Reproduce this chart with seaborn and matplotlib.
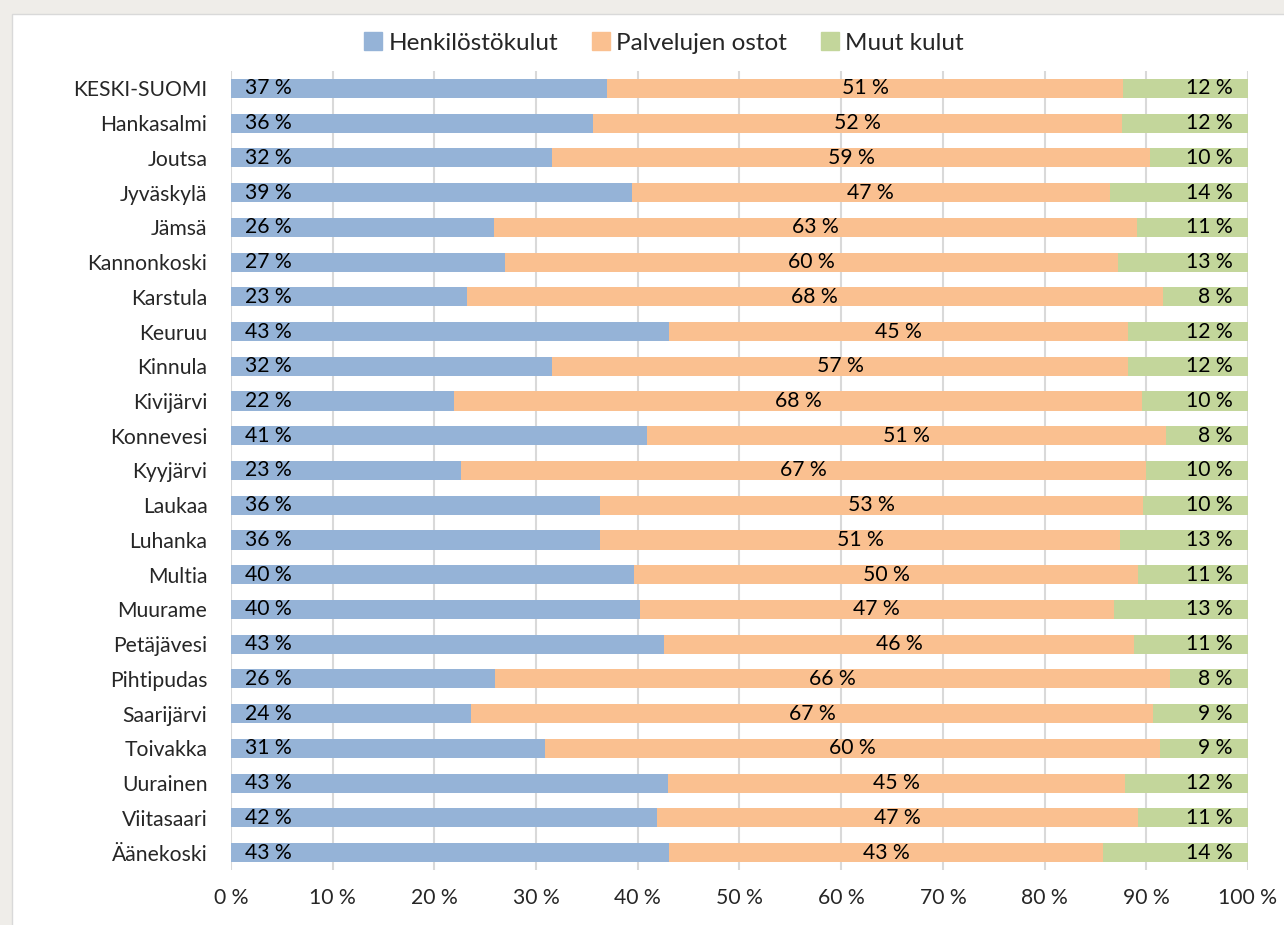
import matplotlib
matplotlib.use("Agg")
import matplotlib.pyplot as plt
import matplotlib.patches as mpatches
import seaborn as sns
import pandas as pd

# kunnat ylhäältä alas
kunnat = ["KESKI-SUOMI", "Hankasalmi", "Joutsa", "Jyväskylä", "Jämsä", "Kannonkoski",
          "Karstula", "Keuruu", "Kinnula", "Kivijärvi", "Konnevesi", "Kyyjärvi",
          "Laukaa", "Luhanka", "Multia", "Muurame", "Petäjävesi", "Pihtipudas",
          "Saarijärvi", "Toivakka", "Uurainen", "Viitasaari", "Äänekoski"]
henkilosto = [37.0, 35.6, 31.6, 39.4, 25.9, 26.9, 23.2, 43.1, 31.6, 21.9, 40.9, 22.6,
              36.3, 36.3, 39.6, 40.2, 42.6, 26.0, 23.6, 30.9, 43.0, 41.9, 43.1]
palvelut = [50.7, 52.0, 58.8, 47.0, 63.2, 60.3, 68.4, 45.1, 56.6, 67.7, 51.0, 67.4,
            53.4, 51.1, 49.6, 46.6, 46.2, 66.3, 67.1, 60.4, 44.9, 47.3, 42.6]
muut = [12.3, 12.4, 9.6, 13.6, 10.9, 12.8, 8.4, 11.8, 11.8, 10.4, 8.1, 10.0,
        10.3, 12.6, 10.8, 13.2, 11.2, 7.7, 9.3, 8.7, 12.1, 10.8, 14.3]

sarjat = ["Henkilöstökulut", "Palvelujen ostot", "Muut kulut"]
varit = ["#95B3D7", "#FAC090", "#C3D69B"]
tikit = [0, 10, 20, 30, 40, 50, 60, 70, 80, 90, 100]

df = pd.DataFrame({"kunta": kunnat, "h": henkilosto, "p": palvelut, "m": muut})
df["hp"] = df["h"] + df["p"]
df["hpm"] = df["hp"] + df["m"]

sns.set_theme(style="white")
plt.rcParams["font.family"] = ["Lato", "DejaVu Sans"]
fs = 15.2

W, H = 1284, 925
fig = plt.figure(figsize=(W / 100, H / 100), dpi=100, facecolor="#EFEDE9")
# valkoinen kaavioalue
fig.patches.append(mpatches.Rectangle((12 / W, -0.01), 1.0, 1 - 14 / H + 0.01,
                                      transform=fig.transFigure, facecolor="white",
                                      edgecolor="#D9D9D9", lw=1, zorder=-10))

ax = fig.add_axes([231 / W, 1 - 870 / H, (1248 - 231) / W, (870 - 71) / H])
ax.set_facecolor("white")

# pinotut palkit: kumulatiiviset kerrokset
for col, c in [("hpm", varit[2]), ("hp", varit[1]), ("h", varit[0])]:
    sns.barplot(data=df, x=col, y="kunta", color=c, width=0.55, saturation=1,
                orient="h", ax=ax, linewidth=0)

for i, r in df.iterrows():
    ax.annotate(f"{r['h']:.0f} %", (0, i), xytext=(10, 0), textcoords="offset points",
                ha="left", va="center", fontsize=fs, color="black")
    ax.annotate(f"{r['p']:.0f} %", (r["h"] + r["p"] / 2, i), ha="center", va="center",
                fontsize=fs, color="black")
    ax.annotate(f"{r['m']:.0f} %", (r["hpm"], i), xytext=(-11, 0), textcoords="offset points",
                ha="right", va="center", fontsize=fs, color="black")

ax.set_xlim(0, 100)
ax.set_ylim(len(kunnat) - 0.5, -0.5)
ax.set_xticks(tikit)
ax.set_xticklabels([f"{t} %" for t in tikit], fontsize=fs)
ax.tick_params(axis="y", labelsize=fs, length=0, pad=17)
ax.tick_params(axis="x", length=0, pad=13)
ax.set_xlabel("")
ax.set_ylabel("")
ax.xaxis.grid(True, color="#D9D9D9", lw=1.5)
ax.set_axisbelow(True)
for s in ax.spines.values():
    s.set_visible(False)

handles = [mpatches.Patch(color=c) for c in varit]
fig.legend(handles, sarjat, loc="center", bbox_to_anchor=(664 / W, 1 - 43 / H), ncol=3,
           frameon=False, fontsize=17.5, handlelength=0.75, handleheight=0.75,
           handletextpad=0.25, columnspacing=1.4)

fig.savefig("out.png", dpi=100, facecolor=fig.get_facecolor())
